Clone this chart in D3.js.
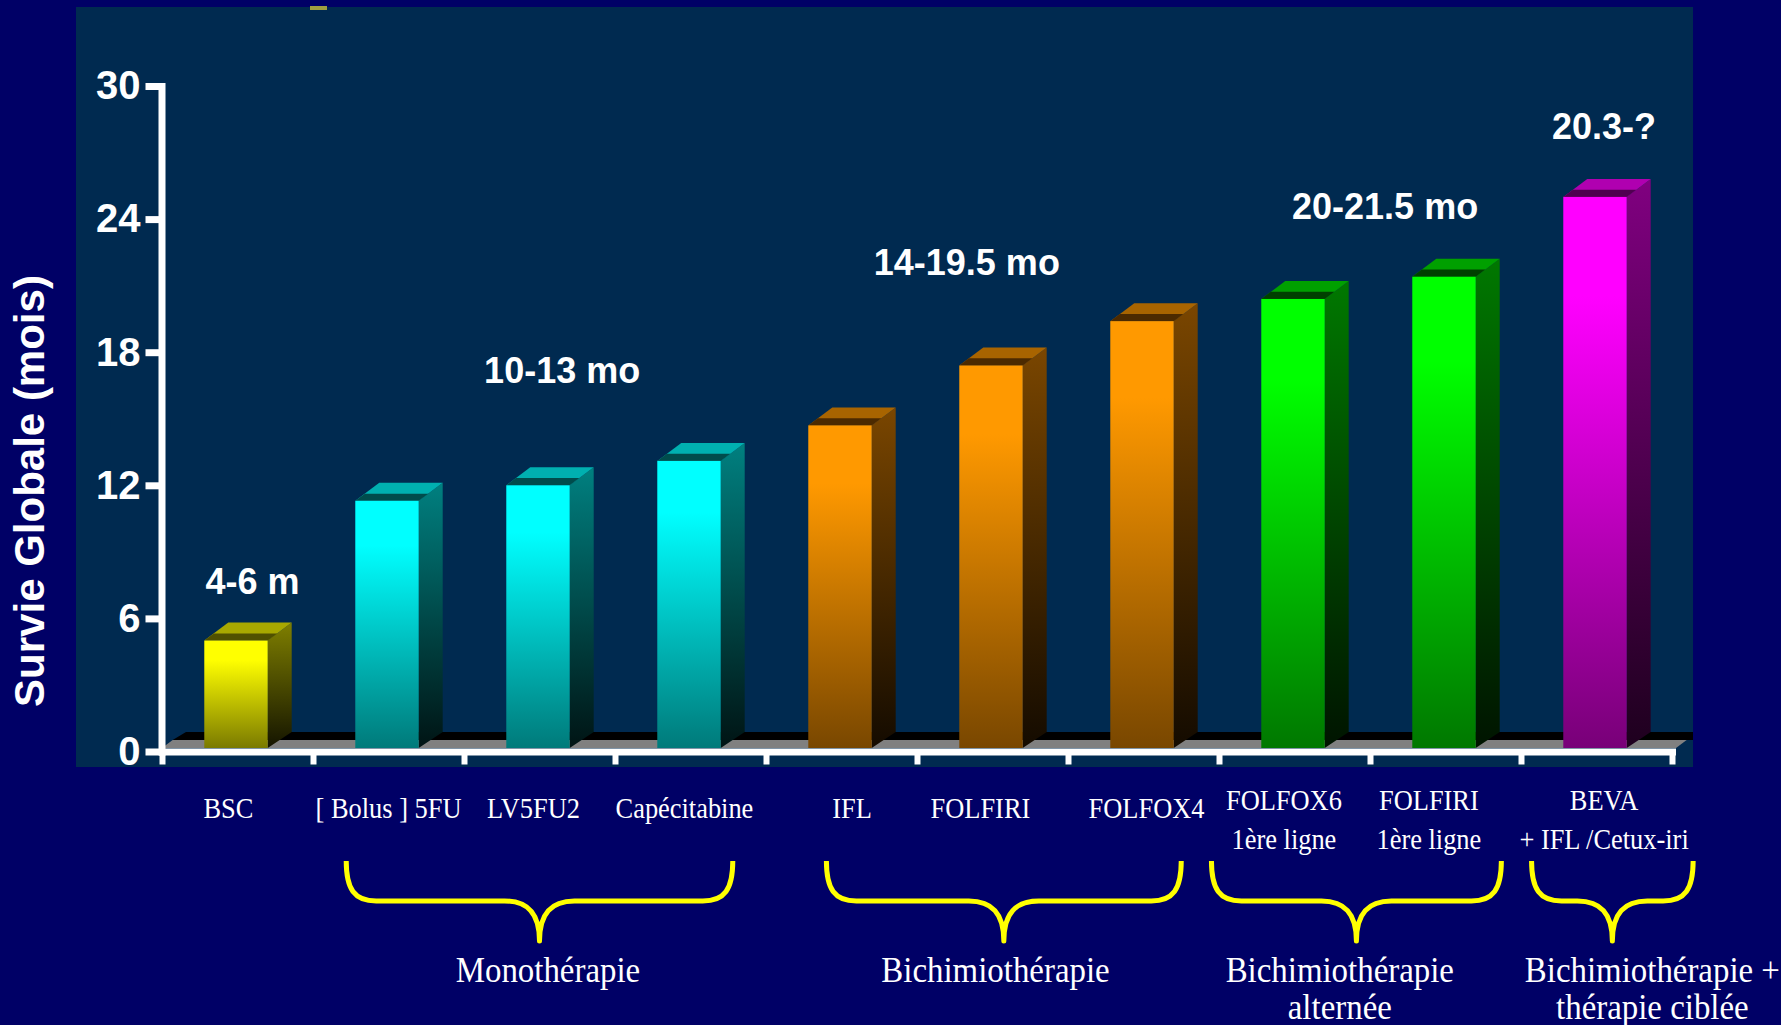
<!DOCTYPE html>
<html lang="fr">
<head>
<meta charset="utf-8">
<title>Survie globale</title>
<style>
  body { margin: 0; background: #000066; }
  svg { display: block; }
  .yaxis text { font-family: "Liberation Sans", Arial, sans-serif; font-weight: bold; font-size: 40px; fill: #fff; }
  .range { font-family: "Liberation Sans", Arial, sans-serif; font-weight: bold; font-size: 36px; fill: #fff; }
  .cat { font-family: "Liberation Serif", "Times New Roman", serif; font-size: 30px; fill: #fff; }
  .grp { font-family: "Liberation Serif", "Times New Roman", serif; font-size: 35px; fill: #fff; }
</style>
</head>
<body>
<script src="https://d3js.org/d3.v7.min.js"></script>
<script>

// ---- data ----
const categories = ["BSC", "[ Bolus ] 5FU", "LV5FU2", "Capécitabine", "IFL", "FOLFIRI", "FOLFOX4",
                    "FOLFOX6 1ère ligne", "FOLFIRI 1ère ligne", "BEVA + IFL /Cetux-iri"];
const labelLines = [["BSC"], ["[  Bolus ] 5FU"], ["LV5FU2"], ["Capécitabine"], ["IFL"], ["FOLFIRI"], ["FOLFOX4"],
                    ["FOLFOX6", "1ère ligne"], ["FOLFIRI", "1ère ligne"], ["BEVA", "+ IFL /Cetux-iri"]];
const survival = [5, 11.3, 12, 13.1, 14.7, 17.4, 19.4, 20.4, 21.4, 25];   // mois
const family = [0, 1, 1, 1, 2, 2, 2, 3, 3, 4];
const ranges = ["4-6 m", "10-13 mo", "14-19.5 mo", "20-21.5 mo", "20.3-?"];
const groupNames = [["Monothérapie"], ["Bichimiothérapie"], ["Bichimiothérapie", "alternée"],
                    ["Bichimiothérapie +", "thérapie ciblée"]];
const yTicks = [0, 6, 12, 18, 24, 30];

// ---- annotation placement (band units on x, months on y) ----
const labelShift = [-0.06, 0, -0.04, -0.04, 0.07, -0.08, 0.02, -0.07, -0.11, 0.05];
const rangeAt = [[0.6, 7.1], [2.65, 16.6], [5.33, 21.5], [8.1, 24.0], [9.55, 27.6]];
const braceAt = [[1.22, 3.78], [4.40, 6.75], [6.95, 8.87], [9.07, 10.14]];
const groupLabelAt = [2.556, 5.52, 7.80, 9.87];

// colours per family: front gradient, side gradient, top, front lip
const palette = [
  {front: ["#ffff00", "#7a7a00"], side: ["#7f7f00", "#141400"], top: "#a8a800", lip: "#505000"},
  {front: ["#00ffff", "#007a7a"], side: ["#008080", "#001414"], top: "#00b0b0", lip: "#004c4c"},
  {front: ["#ff9900", "#794700"], side: ["#7a4600", "#140b00"], top: "#a86400", lip: "#4c2a00"},
  {front: ["#00ff00", "#007800"], side: ["#007800", "#001400"], top: "#00a000", lip: "#004000"},
  {front: ["#ff00ff", "#780078"], side: ["#800080", "#1e001e"], top: "#b000b0", lip: "#500050"}
];

const W = 1781, H = 1025;
const panel = {x: 76, y: 7, w: 1617, h: 760};

const svg = d3.select("body").append("svg").attr("width", W).attr("height", H);
const defs = svg.append("defs");

svg.append("rect").attr("width", W).attr("height", H).attr("fill", "#000066");
svg.append("rect").attr("x", panel.x).attr("y", panel.y).attr("width", panel.w).attr("height", panel.h)
  .attr("fill", "#002a50");
defs.append("clipPath").attr("id", "pclip").append("rect")
  .attr("x", panel.x).attr("y", panel.y).attr("width", panel.w).attr("height", panel.h);

// stray mark at the top of the slide
svg.append("rect").attr("x", 310).attr("y", 6).attr("width", 17).attr("height", 4).attr("fill", "#a0a040");

const x = d3.scaleBand().domain(categories).range([162, 1672]);
const xi = d3.scaleLinear().domain([0, categories.length]).range([162, 1672]);
const y = d3.scaleLinear().domain([0, 30]).range([751.5, 86]);
const bw = x.bandwidth();
const dx = 24, dy = 18;          // 3D depth
const y0 = y(0) - 3.5;

// gradients
palette.forEach((p, i) => {
  const gf = defs.append("linearGradient").attr("id", "front" + i).attr("x1", 0).attr("y1", 0).attr("x2", 0).attr("y2", 1);
  gf.append("stop").attr("offset", 0).attr("stop-color", p.front[0]);
  gf.append("stop").attr("offset", 0.18).attr("stop-color", p.front[0]);
  gf.append("stop").attr("offset", 1).attr("stop-color", p.front[1]);
  const gs = defs.append("linearGradient").attr("id", "side" + i).attr("x1", 0).attr("y1", 0).attr("x2", 0).attr("y2", 1);
  gs.append("stop").attr("offset", 0).attr("stop-color", p.side[0]);
  gs.append("stop").attr("offset", 1).attr("stop-color", p.side[1]);
});

// floor
const plot = svg.append("g").attr("clip-path", "url(#pclip)");
const L = xi(0), R = xi(categories.length) + 4, k = 8 / dy;
const poly = pts => pts.map(p => p.join(",")).join(" ");
plot.append("polygon").attr("fill", "#000")
  .attr("points", poly([[L + dx * k, y0 - 8], [R + dx * k + 40, y0 - 8], [R + dx + 40, y0 - 16], [L + dx, y0 - 16]]));
plot.append("polygon").attr("fill", "#808080")
  .attr("points", poly([[L, y0], [R, y0], [R + dx * k, y0 - 8], [L + dx * k, y0 - 8]]));

// bars
const bars = plot.selectAll("g.bar").data(categories).join("g").attr("class", "bar");
bars.each(function (c, i) {
  const g = d3.select(this);
  const p = palette[family[i]];
  const x0 = x(c) + bw * 0.28, x1 = x0 + bw * 0.42, yt = y(survival[i]);
  g.append("polygon").attr("fill", `url(#side${family[i]})`)
    .attr("points", poly([[x1, yt], [x1 + dx, yt - dy], [x1 + dx, y0 - dy + 2], [x1, y0]]));
  g.append("polygon").attr("fill", p.top)
    .attr("points", poly([[x0, yt], [x1, yt], [x1 + dx, yt - dy], [x0 + dx, yt - dy]]));
  g.append("polygon").attr("fill", p.lip)
    .attr("points", poly([[x0, yt], [x1, yt], [x1 + dx * 0.4, yt - dy * 0.4], [x0 + dx * 0.4, yt - dy * 0.4]]));
  g.append("rect").attr("x", x0).attr("y", yt).attr("width", x1 - x0).attr("height", y0 - yt)
    .attr("fill", `url(#front${family[i]})`);
});

// axes
const yAxis = svg.append("g").attr("class", "yaxis").attr("transform", "translate(161.5,0)")
  .call(d3.axisLeft(y).tickValues(yTicks).tickSize(16).tickSizeOuter(0).tickPadding(5));
yAxis.select(".domain").attr("stroke", "#fff").attr("stroke-width", 7).attr("stroke-linecap", "square");
yAxis.selectAll(".tick line").attr("stroke", "#fff").attr("stroke-width", 7);

const xAxis = svg.append("g").attr("transform", `translate(0,${y(0)})`)
  .call(d3.axisBottom(xi).tickValues(d3.range(0, categories.length + 1)).tickSize(13).tickSizeOuter(0).tickFormat(""));
xAxis.select(".domain").attr("stroke", "#fff").attr("stroke-width", 7).attr("stroke-linecap", "square");
xAxis.selectAll(".tick line").attr("stroke", "#fff").attr("stroke-width", 6);

// axis title
svg.append("text").attr("transform", "translate(44,491) rotate(-90)").attr("text-anchor", "middle")
  .style("font-family", '"Liberation Sans", Arial, sans-serif').style("font-weight", "bold")
  .style("font-size", "42px").attr("fill", "#fff").text("Survie Globale (mois)");

// range labels above the bars
svg.selectAll("text.range").data(ranges).join("text").attr("class", "range")
  .attr("text-anchor", "middle")
  .attr("x", (d, i) => xi(rangeAt[i][0]))
  .attr("y", (d, i) => y(rangeAt[i][1]))
  .text(d => d);

// category labels (condensed serif)
svg.selectAll("text.cat").data(categories).join("text").attr("class", "cat")
  .attr("text-anchor", "middle")
  .attr("transform", (c, i) => `translate(${x(c) + bw / 2 + labelShift[i] * bw},0) scale(0.88,1)`)
  .each(function (c, i) {
    const lines = labelLines[i];
    d3.select(this).selectAll("tspan").data(lines).join("tspan")
      .attr("x", 0)
      .attr("y", (l, j) => lines.length === 1 ? 818 : 810 + j * 39)
      .text(l => l);
  });

// braces
const brace = (a, b) => {
  const x0 = xi(a), x1 = xi(b), xc = (x0 + x1) / 2, yt = 861, ym = 901, yp = 941, r = 30;
  return `M${x0},${yt} C${x0},${ym - 12} ${x0 + 8},${ym} ${x0 + r},${ym} L${xc - 35},${ym} ` +
         `C${xc - 12},${ym} ${xc},${ym + 12} ${xc},${yp} C${xc},${ym + 12} ${xc + 12},${ym} ${xc + 35},${ym} ` +
         `L${x1 - r},${ym} C${x1 - 8},${ym} ${x1},${ym - 12} ${x1},${yt}`;
};
svg.selectAll("path.brace").data(braceAt).join("path").attr("class", "brace")
  .attr("d", d => brace(d[0], d[1]))
  .attr("fill", "none").attr("stroke", "#ffff00").attr("stroke-width", 5).attr("stroke-linejoin", "round");

// group labels
svg.selectAll("text.grp").data(groupNames).join("text").attr("class", "grp")
  .attr("text-anchor", "middle")
  .attr("transform", (d, i) => `translate(${xi(groupLabelAt[i])},0) scale(0.94,1)`)
  .each(function (lines) {
    d3.select(this).selectAll("tspan").data(lines).join("tspan")
      .attr("x", 0)
      .attr("y", (l, j) => 982 + j * 37)
      .text(l => l);
  });

</script>
</body>
</html>
